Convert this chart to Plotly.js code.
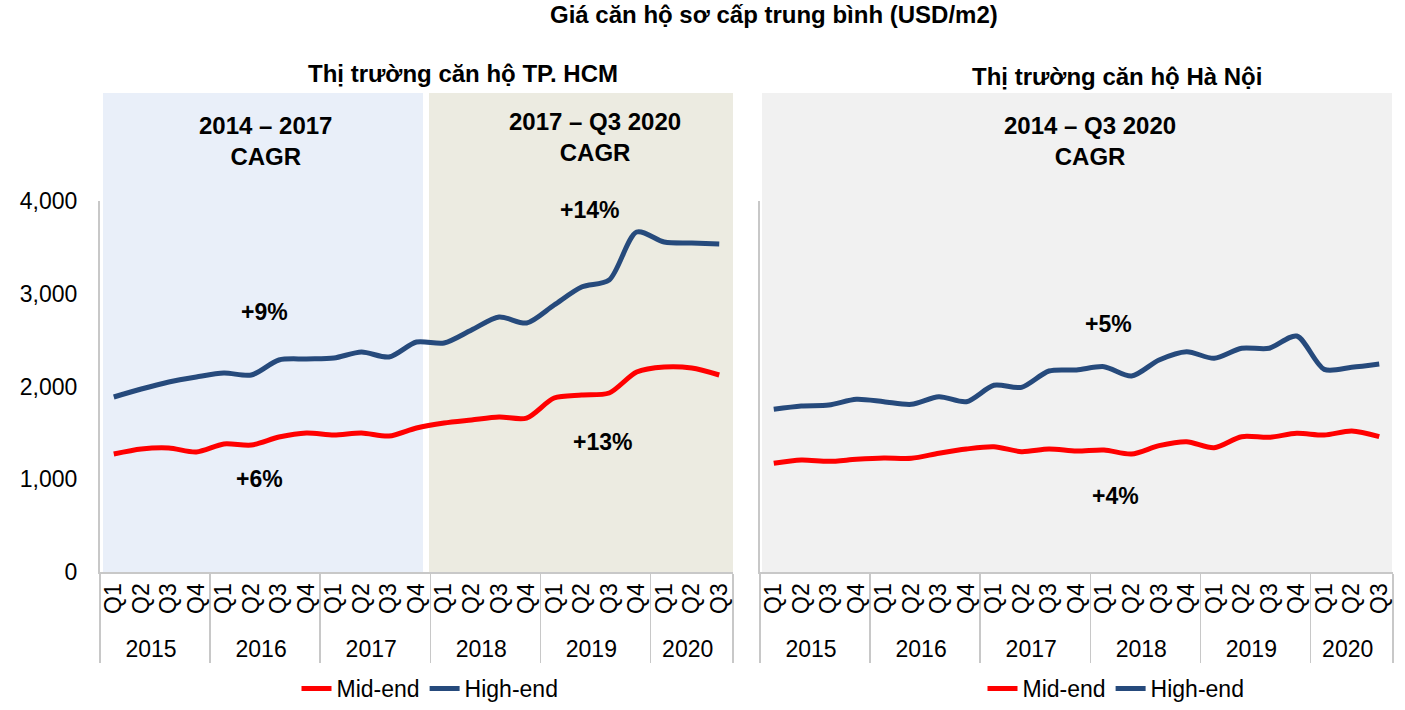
<!DOCTYPE html>
<html>
<head>
<meta charset="utf-8">
<script src="https://cdn.plot.ly/plotly-3.0.1.min.js"></script>
<style>
  html, body { margin: 0; padding: 0; background: #fff; }
  #chart { width: 1405px; height: 710px; }
</style>
</head>
<body>
<div id="chart"></div>
<script>
// quarters Q1 2015 .. Q3 2020
const years = [
  "2015", "2015", "2015", "2015", "2016", "2016", "2016", "2016",
  "2017", "2017", "2017", "2017", "2018", "2018", "2018", "2018",
  "2019", "2019", "2019", "2019", "2020", "2020", "2020",
];
const quarters = [
  "Q1", "Q2", "Q3", "Q4", "Q1", "Q2", "Q3", "Q4",
  "Q1", "Q2", "Q3", "Q4", "Q1", "Q2", "Q3", "Q4",
  "Q1", "Q2", "Q3", "Q4", "Q1", "Q2", "Q3",
];

// USD/m2
const hcmMid = [
  1272, 1326, 1337, 1294, 1380, 1369, 1455, 1499, 1477, 1499, 1466, 1553,
  1606, 1639, 1671, 1660, 1876, 1908, 1930, 2156, 2210, 2199, 2124,
];
const hcmHigh = [
  1887, 1973, 2049, 2102, 2145, 2124, 2286, 2297, 2307, 2372, 2318, 2480,
  2469, 2609, 2749, 2685, 2879, 3073, 3148, 3666, 3558, 3547, 3536,
];
const hnMid = [
  1172, 1208, 1193, 1215, 1229, 1226, 1280, 1326, 1351, 1297, 1326, 1304,
  1315, 1272, 1362, 1405, 1340, 1459, 1452, 1495, 1477, 1520, 1459,
];
const hnHigh = [
  1754, 1790, 1800, 1862, 1836, 1808, 1890, 1836, 2013, 1991, 2167, 2178,
  2214, 2113, 2286, 2375, 2304, 2412, 2412, 2544, 2185, 2207, 2243,
];

const yTicks = [0, 1000, 2000, 3000, 4000];

const W = 1405;
const H = 710;
const px = (x) => x / W;
const py = (y) => 1 - y / H;

const RED = "#ff0000";
const BLUE = "#264a7c";
const FONT = "Liberation Sans, Arial, sans-serif";

function lineTrace(values, name, color, xa, ya, legend) {
  return {
    type: "scatter",
    mode: "lines",
    x: [years, quarters],
    y: values,
    name: name,
    xaxis: xa,
    yaxis: ya,
    legend: legend,
    line: { color: color, width: 5, shape: "spline", smoothing: 0.8 },
    hoverinfo: "y",
  };
}

const traces = [
  lineTrace(hcmMid, "Mid-end", RED, "x", "y", "legend"),
  lineTrace(hcmHigh, "High-end", BLUE, "x", "y", "legend"),
  lineTrace(hnMid, "Mid-end", RED, "x2", "y2", "legend2"),
  lineTrace(hnHigh, "High-end", BLUE, "x2", "y2", "legend2"),
];

const xBase = {
  type: "multicategory",
  range: [-0.5, quarters.length - 0.5],
  tickmode: "linear",
  tick0: 0,
  dtick: 1,
  showline: true,
  linecolor: "#c8c8c8",
  linewidth: 2,
  showgrid: false,
  zeroline: false,
  ticks: "outside",
  ticklen: 4,
  tickcolor: "rgba(0,0,0,0)",
  tickangle: -90,
  showdividers: true,
  dividercolor: "#c8c8c8",
  dividerwidth: 1.5,
  tickfont: { family: FONT, size: 23, color: "#000" },
};

const yBase = {
  range: [0, 4000],
  tickvals: yTicks,
  tickformat: ",",
  showline: true,
  linecolor: "#c8c8c8",
  linewidth: 2,
  showgrid: false,
  zeroline: false,
  ticks: "",
  ticklabelstandoff: 16,
  domain: [py(572), py(201)],
  tickfont: { family: FONT, size: 23, color: "#000" },
};

function rect(x0, x1, y0, y1, color) {
  return {
    type: "rect", xref: "paper", yref: "paper",
    x0: px(x0), x1: px(x1), y0: py(y1), y1: py(y0),
    fillcolor: color, line: { width: 0 }, layer: "below",
  };
}

function label(text, x, y, size) {
  return {
    text: text, xref: "paper", yref: "paper",
    x: px(x), y: py(y), xanchor: "center", yanchor: "middle",
    showarrow: false,
    font: { family: FONT, size: size, color: "#000", weight: "bold" },
  };
}

const legendBase = {
  orientation: "h",
  y: 0, yanchor: "bottom",
  xanchor: "center",
  bgcolor: "rgba(0,0,0,0)",
  font: { family: FONT, size: 23, color: "#000" },
};

const layout = {
  width: W,
  height: H,
  margin: { l: 0, r: 0, t: 0, b: 0 },
  paper_bgcolor: "#fff",
  plot_bgcolor: "rgba(0,0,0,0)",
  font: { family: FONT, color: "#000" },
  xaxis: Object.assign({}, xBase, { domain: [px(100), px(733)], anchor: "y" }),
  yaxis: Object.assign({}, yBase, { anchor: "x" }),
  xaxis2: Object.assign({}, xBase, { domain: [px(760), px(1393)], anchor: "y2" }),
  yaxis2: Object.assign({}, yBase, { anchor: "x2", showticklabels: false }),
  shapes: [
    rect(103, 423, 93, 572, "#e9eff9"),
    rect(429, 733, 93, 572, "#ecebe1"),
    rect(762, 1392, 93, 572, "#f1f1f1"),
  ],
  annotations: [
    label("Giá căn hộ sơ cấp trung bình (USD/m2)", 774, 15, 24),
    label("Thị trường căn hộ TP. HCM", 463, 74, 24),
    label("Thị trường căn hộ Hà Nội", 1117, 77, 24),
    label("2014 – 2017<br>CAGR", 265, 141, 24),
    label("2017 – Q3 2020<br>CAGR", 595, 137, 24),
    label("2014 – Q3 2020<br>CAGR", 1090, 141, 24),
    label("+9%", 264, 312, 23),
    label("+6%", 259, 479, 23),
    label("+14%", 589, 210, 23),
    label("+13%", 602, 442, 23),
    label("+5%", 1108, 324, 23),
    label("+4%", 1115, 496, 23),
  ],
  legend: Object.assign({}, legendBase, { x: px(430) }),
  legend2: Object.assign({}, legendBase, { x: px(1116) }),
};

Plotly.newPlot("chart", traces, layout, { displayModeBar: false, staticPlot: true });
</script>
</body>
</html>
